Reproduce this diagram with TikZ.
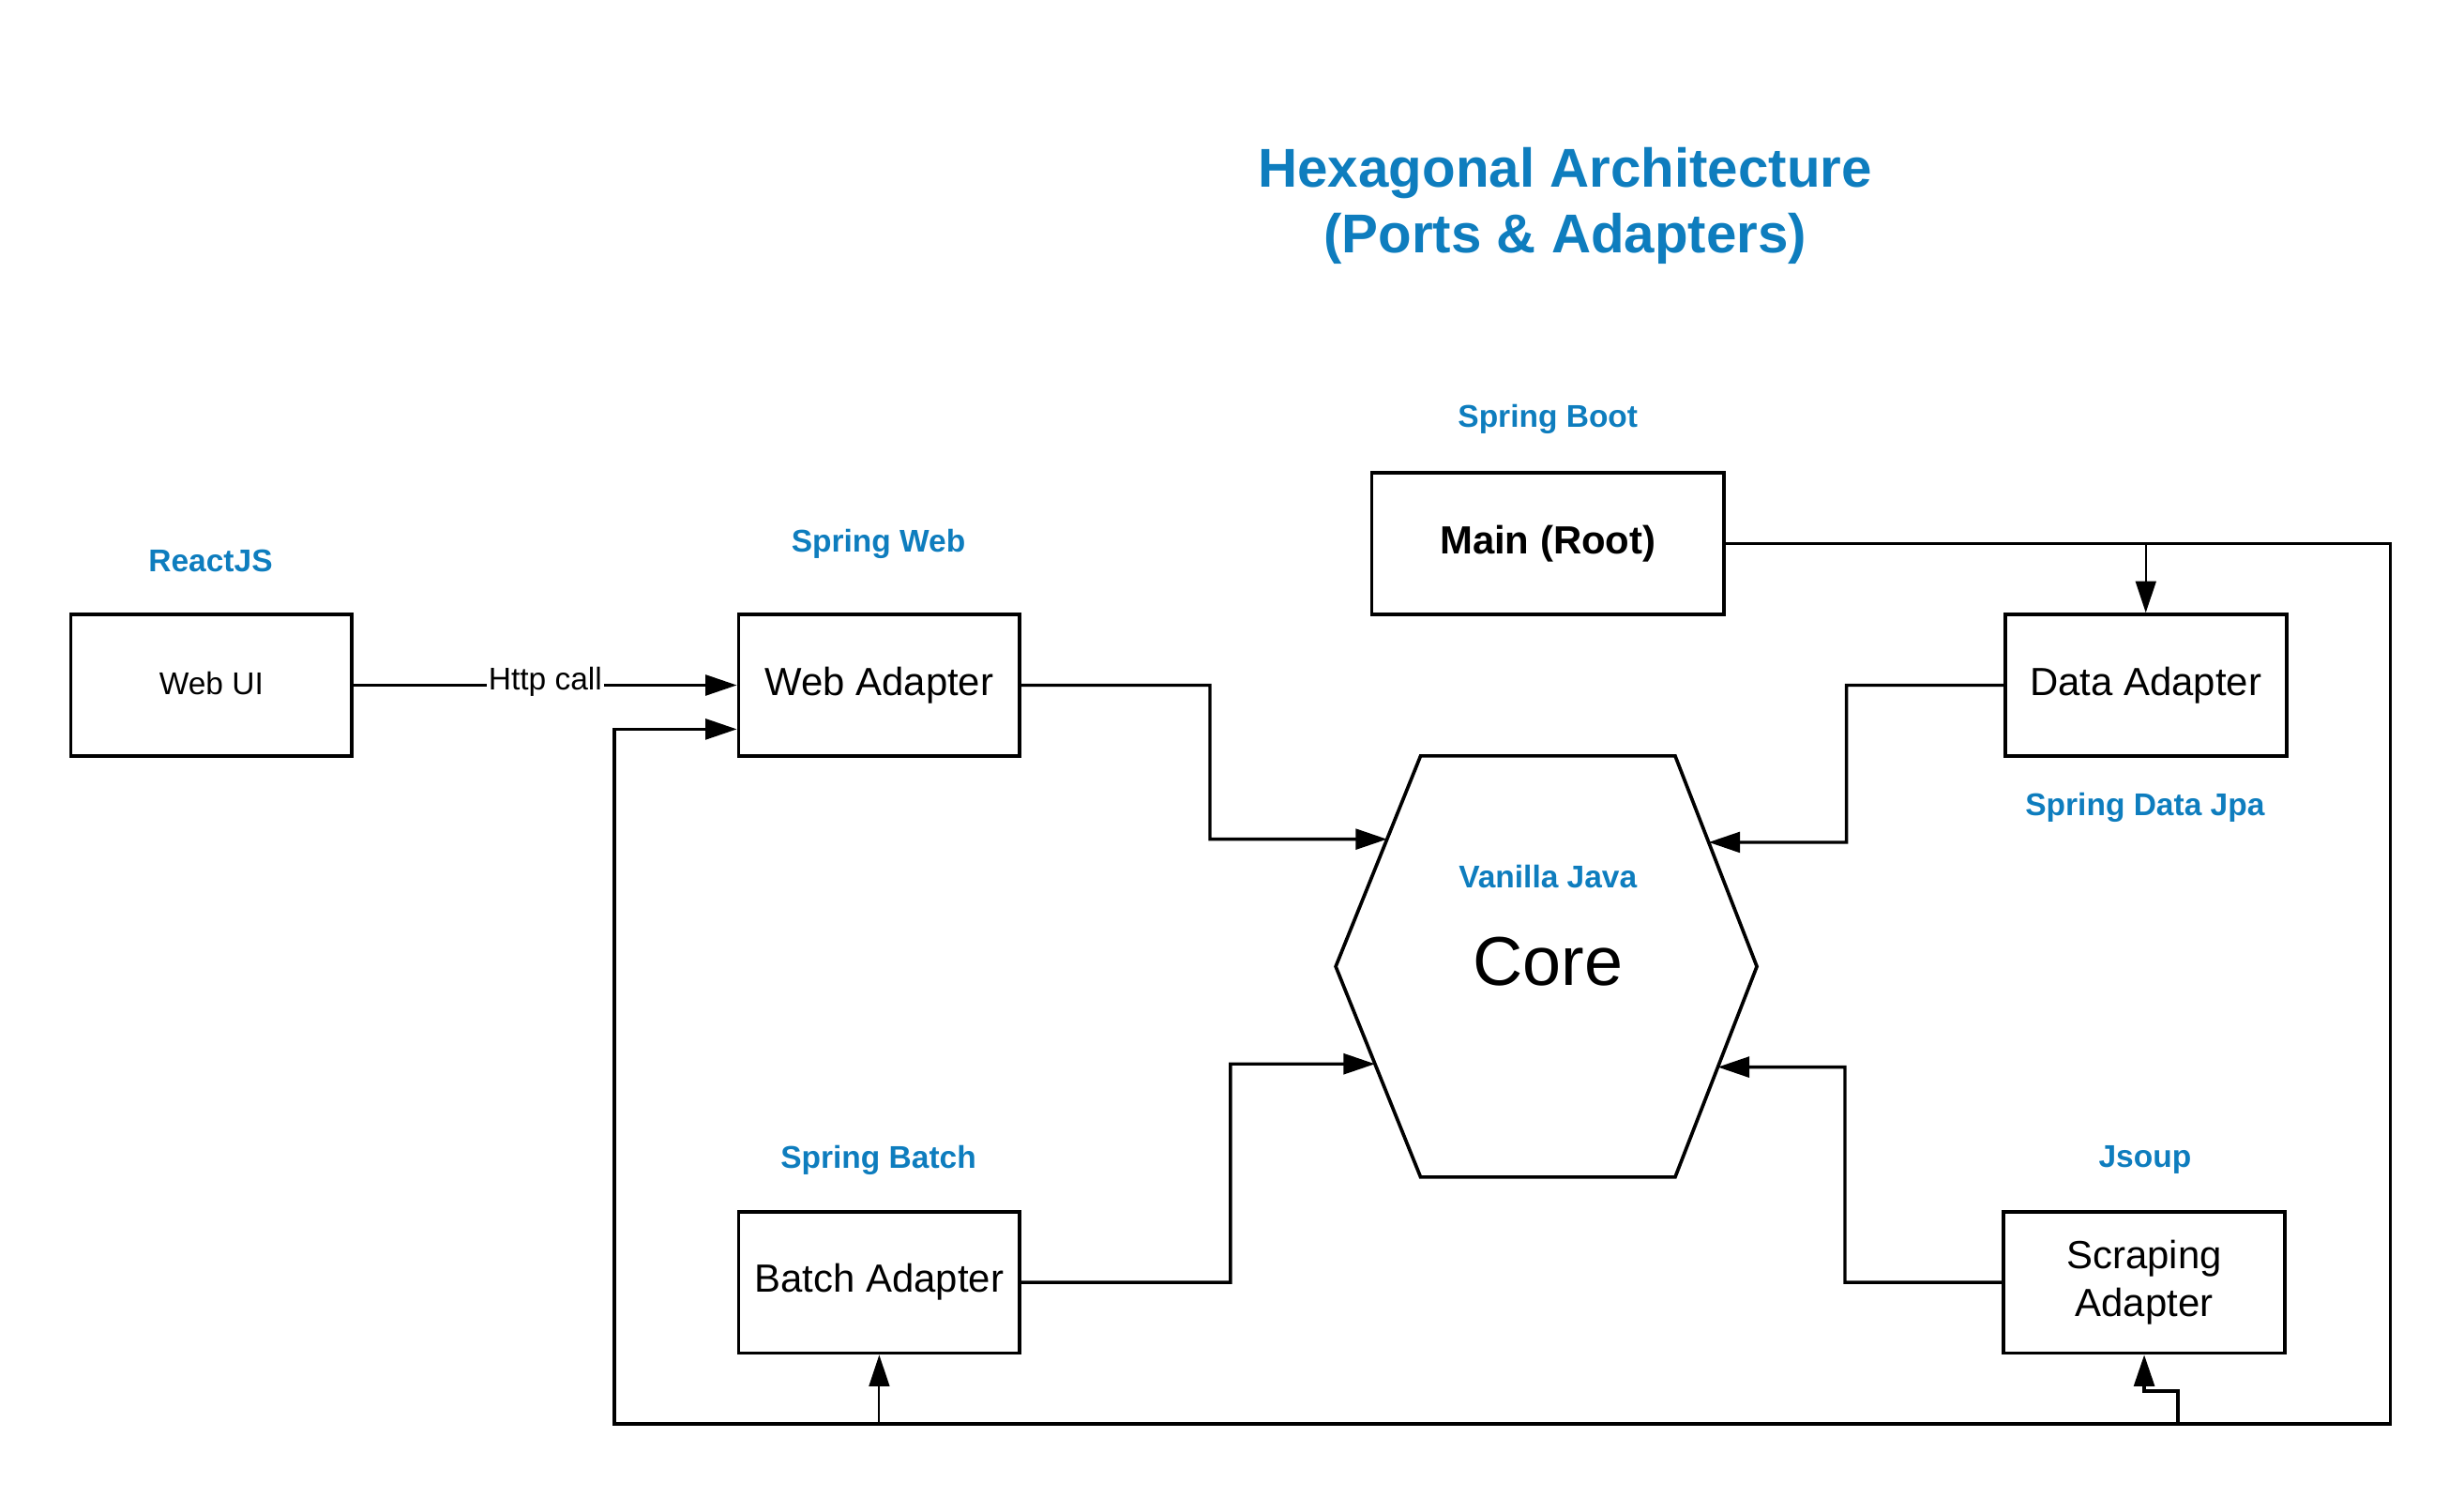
\documentclass[tikz,border=0pt]{standalone}
\usepackage{fontspec}
\setmainfont{Liberation Sans}
\usetikzlibrary{arrows.meta,calc}
\definecolor{lucidblue}{RGB}{14,125,190}
\tikzset{
  box/.style={draw, line width=1.1pt, minimum width=89.5pt, minimum height=45pt, inner sep=0pt, align=center, font=\fontsize{12.5}{15}\selectfont},
  tag/.style={text=lucidblue, inner sep=0pt, font=\fontsize{10}{12}\selectfont\bfseries},
  wire/.style={line width=1pt},
  link/.style={line width=1pt, -{Triangle[length=10pt,width=6.5pt]}},
  thinlink/.style={line width=0.6pt, -{Triangle[length=10pt,width=6.5pt]}},
}

\begin{document}
\begin{tikzpicture}[x=0.5pt,y=0.5pt,yscale=-1,xscale=1]
\useasboundingbox (0,0) rectangle (1568,953);

% Title
\draw (996,131) node [align=center, text=lucidblue, font=\fontsize{17.4}{21}\selectfont\bfseries] (title) {Hexagonal Architecture\\(Ports \& Adapters)};

% Boxes
\draw (134.5,436) node [box, font=\fontsize{10}{12}\selectfont] (webui) {\raisebox{1.5pt}{Web UI}};
\draw (559.5,436) node [box] (webad) {Web Adapter};
\draw (985,346) node [box, minimum width=112pt, font=\fontsize{12.5}{15}\selectfont\bfseries] (main) {Main (Root)};
\draw (1365.5,436) node [box] (data) {Data Adapter};
\draw (559.5,816) node [box] (batch) {Batch Adapter};
\draw (1364.5,816) node [box] (scrap) {Scraping\\Adapter};

% Hexagon (core)
\coordinate (h1) at (904,481);
\coordinate (h2) at (1066,481);
\coordinate (h3) at (1118,615);
\coordinate (h4) at (1066,749);
\coordinate (h5) at (904,749);
\coordinate (h6) at (850,615);
\draw [line width=1.1pt] (h1) -- (h2) -- (h3) -- (h4) -- (h5) -- (h6) -- cycle;
\draw (985,612) node [inner sep=0pt, font=\fontsize{22}{26}\selectfont] (core) {Core};

% Ports on the hexagon
\coordinate (inweb) at ($(h1)!0.3955!(h6)$);
\coordinate (indata) at ($(h2)!0.41!(h3)$);
\coordinate (inbatch) at ($(h6)!0.4627!(h5)$);
\coordinate (inscrap) at ($(h3)!0.4776!(h4)$);

% Tags
\draw (134,357) node [tag] (reactjs) {ReactJS};
\draw (559,346) node [tag] (springweb) {Spring Web};
\draw (985,267) node [tag] (springboot) {Spring Boot};
\draw (1365,514) node [tag] (springdata) {Spring Data Jpa};
\draw (985,558) node [tag] (vanilla) {Vanilla Java};
\draw (559,738) node [tag] (springbatch) {Spring Batch};
\draw (1365,738) node [tag] (jsoup) {Jsoup};

% Http call
\draw [link] (webui.east) -- (webad.west) node [midway, fill=white, inner sep=0.5pt, yshift=1pt, font=\fontsize{10}{12}\selectfont] (http) {Http call};

% Adapters to core
\draw [link] (webad.east) -| (770,534) -- (inweb);
\draw [link] (data.west) -| (1175,536) -- (indata);
\draw [link] (batch.east) -| (783,677) -- (inbatch);
\draw [link] (scrap.west) -| (1174,679) -- (inscrap);

% Main (Root) wiring
\coordinate (bustr) at (1521,346);
\coordinate (busbr) at (1521,906);
\coordinate (busbl) at (391,906);
\coordinate (busweb) at (391,464);
\coordinate (jscrap) at (1386,906);
\draw [link] (main.east) -- (bustr) -- (busbr) -- (busbl) -- (busweb) -- (busweb -| webad.west);
\draw [thinlink] (data.north |- main.east) -- (data.north);
\draw [thinlink] (batch.south |- busbl) -- (batch.south);
\draw [link] (jscrap) |- ($(scrap.south)+(0,23)$) -- (scrap.south);

\end{tikzpicture}
\end{document}
